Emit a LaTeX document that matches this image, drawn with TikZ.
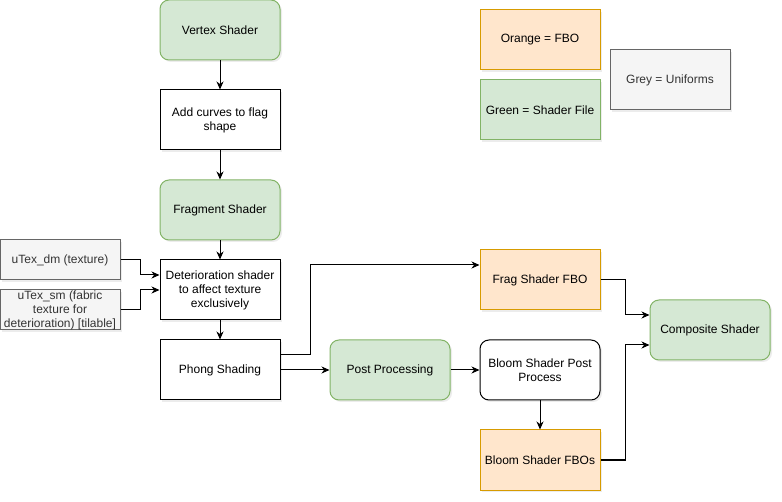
\documentclass[tikz,border=0pt]{standalone}
\usepackage{fontspec}
\setmainfont{Liberation Sans}
\usetikzlibrary{arrows.meta,shadows,calc}
\definecolor{gfill}{HTML}{D5E8D4}
\definecolor{gline}{HTML}{82B366}
\definecolor{ofill}{HTML}{FFE6CC}
\definecolor{oline}{HTML}{D79B00}
\definecolor{yfill}{HTML}{F5F5F5}
\definecolor{yline}{HTML}{666666}
\definecolor{ytext}{HTML}{333333}
\begin{document}
\begin{tikzpicture}[x=1pt,y=-1pt,
  font=\fontsize{12}{14}\selectfont,
  box/.style={draw, line width=1pt, minimum width=120pt, minimum height=60pt,
    align=center, inner sep=2pt, fill=white,
    drop shadow={shadow xshift=2pt,shadow yshift=-2pt,opacity=0.15}},
  whitebox/.style={box},
  roundwhite/.style={box, rounded corners=9pt},
  greenbox/.style={box, rounded corners=9pt, fill=gfill, draw=gline},
  orangebox/.style={box, fill=ofill, draw=oline},
  greybox/.style={box, fill=yfill, draw=yline, text=ytext},
  conn/.style={line width=1pt, -{Stealth[length=8pt,width=7pt,inset=2.5pt]}},
  line/.style={line width=1pt}
]
\useasboundingbox (0,0) rectangle (782,502);

\node[greenbox] (vs) at (220,30) {Vertex Shader};
\node[whitebox] (add) at (220,120) {Add curves to flag\\shape};
\node[greenbox] (fs) at (220,210) {Fragment Shader};
\node[whitebox] (det) at (220,290) {Deterioration shader\\to affect texture\\exclusively};
\node[whitebox] (ph) at (220,370) {Phong Shading};
\node[greybox, minimum height=40pt] (udm) at (60,260) {uTex\_dm (texture)};
\node[greybox, minimum height=40pt, inner sep=0pt] (usm) at (60,310) {uTex\_sm (fabric\\texture for\\deterioration) [tilable]};
\node[greenbox] (pp) at (390,370) {Post Processing};
\node[roundwhite] (bl) at (540,370) {Bloom Shader Post\\Process};
\node[orangebox] (bfbo) at (540,460) {Bloom Shader FBOs};
\node[orangebox] (ffbo) at (540,280) {Frag Shader FBO};
\node[greenbox] (cs) at (710,330) {Composite Shader};

\node[orangebox] (lo) at (540,40) {Orange = FBO};
\node[greenbox, rounded corners=0pt] (lg) at (540,110) {Green = Shader File};
\node[greybox] (ly) at (670,80) {Grey = Uniforms};

\draw[conn] (vs) -- (add);
\draw[conn] (add) -- (fs);
\draw[conn] (fs) -- (det);
\draw[conn] (det) -- (ph);
\draw[conn] (udm.east) -- (140,260) |- ($(det.west)+(0,-15)$);
\draw[conn] (usm.east) -- (140,310) |- (det.west);
\draw[conn] ($(ph.east)+(0,-15)$) -- (310,355) |- ($(ffbo.west)+(0,-15)$);
\draw[conn] (ph) -- (pp);
\draw[conn] (pp) -- (bl);
\draw[conn] (bl) -- (bfbo);
\draw[conn] (ffbo.east) -- (625,280) |- ($(cs.west)+(0,-15)$);
\draw[conn] (bfbo.east) -- (625,460) |- ($(cs.west)+(0,15)$);
\end{tikzpicture}
\end{document}
